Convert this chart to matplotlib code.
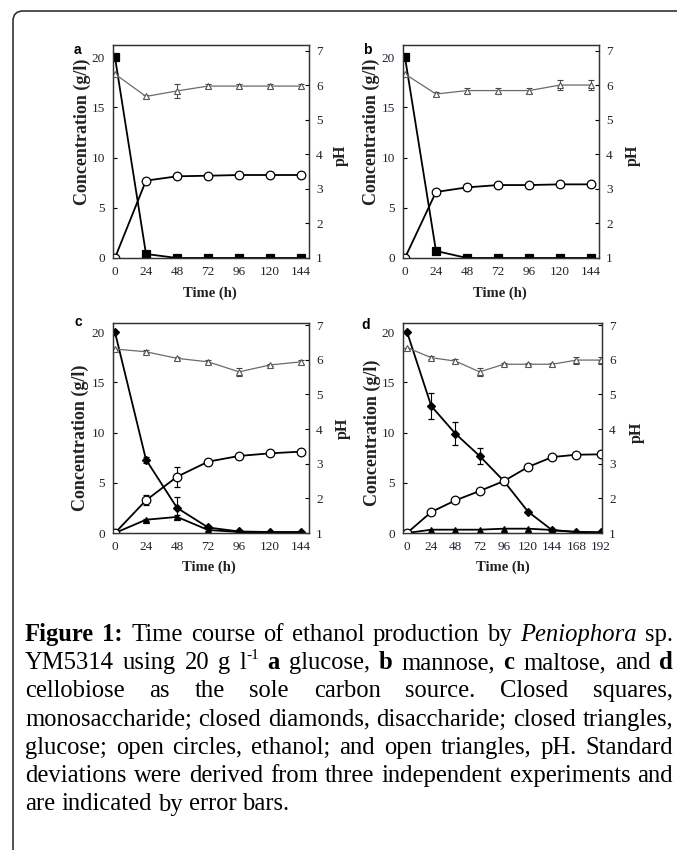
import matplotlib
matplotlib.use('Agg')
import matplotlib.pyplot as plt
from matplotlib.patches import FancyBboxPatch

# ---------------- data ----------------
t_ab = [0, 24, 48, 72, 96, 120, 144]
t_c = [0, 24, 48, 72, 96, 120, 144]
t_d = [0, 24, 48, 72, 96, 120, 144, 168, 192]

# panel a: glucose
mono_a = [20, 0.4, 0, 0, 0, 0, 0]
eth_a = [0, 7.7, 8.13, 8.19, 8.26, 8.26, 8.26]
ph_a = [6.33, 5.68, 5.84, 5.98, 5.98, 5.98, 5.98]
ph_a_err = [0, 0.05, 0.2, 0.05, 0.05, 0.05, 0.05]

# panel b: mannose
mono_b = [20, 0.7, 0, 0, 0, 0, 0]
eth_b = [0, 6.57, 7.03, 7.26, 7.26, 7.33, 7.33]
ph_b = [6.33, 5.75, 5.85, 5.85, 5.85, 6.01, 6.01]
ph_b_err = [0, 0.05, 0.08, 0.06, 0.06, 0.15, 0.15]

# panel c: maltose
di_c = [20, 7.3, 2.5, 0.55, 0.15, 0.1, 0.1]
di_c_err = [0, 0.3, 1.1, 0.1, 0, 0, 0]
glc_c = [0, 1.32, 1.6, 0.3, 0.1, 0.05, 0.05]
glc_c_err = [0, 0.1, 0.2, 0.1, 0, 0, 0]
eth_c = [0, 3.25, 5.6, 7.1, 7.67, 7.93, 8.1]
eth_c_err = [0, 0.5, 1.0, 0.3, 0.1, 0.1, 0.1]
ph_c = [6.31, 6.23, 6.04, 5.94, 5.65, 5.85, 5.94]
ph_c_err = [0, 0.05, 0.05, 0.05, 0.12, 0.03, 0.05]

# panel d: cellobiose
di_d = [20, 12.64, 9.88, 7.66, 5.17, 2.12, 0.27, 0.1, 0.07]
di_d_err = [0, 1.3, 1.15, 0.75, 0, 0, 0, 0, 0]
glc_d = [0, 0.33, 0.33, 0.33, 0.43, 0.43, 0.3, 0.1, 0.05]
eth_d = [0, 2.09, 3.25, 4.18, 5.17, 6.57, 7.56, 7.79, 7.83]
ph_d = [6.35, 6.06, 5.96, 5.65, 5.87, 5.87, 5.87, 5.99, 5.99]
ph_d_err = [0, 0.05, 0.06, 0.12, 0.03, 0.03, 0.05, 0.1, 0.1]

conc_ticks = [0, 5, 10, 15, 20]
ph_ticks = [1, 2, 3, 4, 5, 6, 7]
xt_abc = [0, 24, 48, 72, 96, 120, 144]
xt_d = [0, 24, 48, 72, 96, 120, 144, 168, 192]

caption_lines = [
    "**Figure **1: Time course of ethanol production by *Peniophora sp.",
    "YM5314 using 20 g l^-1 **a glucose, **b mannose, **c maltose, and **d",
    "cellobiose as the sole carbon source. Closed squares,",
    "monosaccharide; closed diamonds, disaccharide; closed triangles,",
    "glucose; open circles, ethanol; and open triangles, pH. Standard",
    "deviations were derived from three independent experiments and",
    "are indicated by error bars.",
]

# ---------------- setup ----------------
SERIF = ['Liberation Serif', 'DejaVu Serif']
SANS = ['Liberation Sans', 'DejaVu Sans']
plt.rcParams['font.family'] = SERIF
W, H = 677, 850
fig = plt.figure(figsize=(W / 100, H / 100), dpi=100)


def px_rect(l, t, r, b):
    return [l / W, 1 - b / H, (r - l) / W, (b - t) / H]


TICKC = '#222233'


def panel(rect, t, xlim, xticks, ylim, phlim, main, ph, ph_err):
    ax = fig.add_axes(px_rect(*rect))
    ax2 = ax.twinx()
    for name, y, err, style in main:
        kw = dict(color='black', lw=1.3, ms=style['ms'], marker=style['m'],
                  mfc=style['mfc'], mec='black', mew=0.9, zorder=style['z'])
        if err is not None:
            ax.errorbar(t, y, yerr=err, ecolor='black', elinewidth=0.8,
                        capsize=2.2, capthick=0.8, **kw)
        else:
            ax.plot(t, y, **kw)
    ax2.errorbar(t, ph, yerr=ph_err, color='#6a6a6a', lw=0.9, marker='^',
                 ms=5, mfc='white', mec='#555555', mew=0.8,
                 ecolor='#444444', elinewidth=0.7, capsize=2.2, capthick=0.7)
    ax.set_xlim(*xlim)
    ax.set_ylim(*ylim)
    ax2.set_ylim(*phlim)
    ax.set_xticks(xticks)
    ax.set_yticks(conc_ticks)
    ax2.set_yticks(ph_ticks)
    ax.tick_params(axis='x', direction='in', length=0, labelsize=9.5,
                   pad=6, labelcolor=TICKC)
    ax.tick_params(axis='y', direction='in', length=3, width=0.8,
                   labelsize=9.5, pad=6, labelcolor=TICKC)
    ax2.tick_params(axis='y', direction='in', length=3, width=0.8,
                    labelsize=9.5, pad=5, labelcolor=TICKC)
    for a in (ax, ax2):
        for s in a.spines.values():
            s.set_linewidth(0.9)
            s.set_color('#333333')
    return ax, ax2


sq = dict(m='s', ms=5.3, mfc='black', z=3)
ci = dict(m='o', ms=6.2, mfc='white', z=4)
di = dict(m='D', ms=4.3, mfc='black', z=3)
tr = dict(m='^', ms=5, mfc='black', z=3)

panel((113, 45, 309, 258), t_ab, (-1.5, 150), xt_abc, (0, 21.2), (1, 7.17),
      [('mono', mono_a, None, sq), ('eth', eth_a, None, ci)], ph_a, ph_a_err)
panel((403, 45, 599, 258), t_ab, (-1.5, 150), xt_abc, (0, 21.2), (1, 7.17),
      [('mono', mono_b, None, sq), ('eth', eth_b, None, ci)], ph_b, ph_b_err)
panel((113, 323, 309, 533), t_c, (-1.5, 150), xt_abc, (0, 20.9), (1, 7.06),
      [('di', di_c, di_c_err, di), ('glc', glc_c, glc_c_err, tr),
       ('eth', eth_c, eth_c_err, ci)], ph_c, ph_c_err)
panel((403, 323, 602, 533), t_d, (-4, 193.3), xt_d, (0, 20.9), (1, 7.06),
      [('di', di_d, di_d_err, di), ('glc', glc_d, None, tr),
       ('eth', eth_d, None, ci)], ph_d, ph_d_err)

# ---------------- overlay (pixel coordinates) ----------------
ov = fig.add_axes([0, 0, 1, 1])
ov.set_xlim(0, W)
ov.set_ylim(H, 0)
ov.axis('off')
ov.patch.set_alpha(0)

ov.add_patch(FancyBboxPatch((13, 11), 760, 950,
                            boxstyle='round,pad=0,rounding_size=10',
                            fc='none', ec='#333333', lw=1.2))

for lab, (x, y) in zip(['a', 'b', 'c', 'd'],
                       [(77, 50), (367, 50), (78, 322), (366, 325)]):
    ov.text(x, y, lab, family=SANS, fontweight='bold', fontsize=10,
            ha='center', va='center')

for (x, y) in [(82, 132), (371, 132), (80, 438), (372, 433)]:
    ov.text(x, y, 'Concentration (g/l)', fontweight='bold', fontsize=13,
            rotation=90, ha='center', va='center', color='#222222')
for (x, y) in [(341, 155), (633, 155), (343, 428), (637, 432)]:
    ov.text(x, y, 'pH', fontweight='bold', fontsize=11.5,
            rotation=90, ha='center', va='center', color='#222222')
for (x, y) in [(210, 293), (500, 293), (209, 567), (503, 567)]:
    ov.text(x, y, 'Time (h)', fontweight='bold', fontsize=10.5,
            ha='center', va='center', color='#222222')

# ---------------- justified caption ----------------
renderer = fig.canvas.get_renderer()


def parse(line):
    words = []
    for tok in line.split(' '):
        wt, st = 'normal', 'normal'
        if tok.startswith('**'):
            tok = tok[2:]
            wt = 'bold'
        elif tok.startswith('*'):
            tok = tok[1:]
            st = 'italic'
        if tok == '':
            continue
        if '^' in tok:
            base, sup = tok.split('^')
            words.append([(base, wt, st, 1.0, 0.0), (sup, wt, st, 0.62, 0.42)])
        else:
            words.append([(tok, wt, st, 1.0, 0.0)])
    return words


lines = [parse(l) for l in caption_lines]
# make "1:" bold
lines[0][1] = [(s, 'bold', st, sc, r) for (s, wt, st, sc, r) in lines[0][1]]
# italic Peniophora only, not sp.
lines[0][-1] = [('sp.', 'normal', 'normal', 1.0, 0.0)]


def seg_width(s, wt, st, size):
    t = ov.text(0, 0, s, fontsize=size, fontweight=wt, fontstyle=st)
    w = t.get_window_extent(renderer).width
    t.remove()
    return w


def word_width(word, size):
    return sum(seg_width(s, wt, st, size * sc) for (s, wt, st, sc, r) in word)


def space_width(size):
    return seg_width('n n', 'normal', 'normal', size) - seg_width('nn', 'normal', 'normal', size)


X0, X1 = 25, 673
base = 16.0
last_w = sum(word_width(w, base) for w in lines[-1]) + space_width(base) * (len(lines[-1]) - 1)
size = base * 270.0 / last_w
for ln in lines[:-1]:
    nat = sum(word_width(w, size) for w in ln) + 1.05 * space_width(size) * (len(ln) - 1)
    if nat > (X1 - X0):
        size *= (X1 - X0) / nat

sp = space_width(size)
px_per_pt = 100 / 72.0
for i, ln in enumerate(lines):
    yb = 640.7 + 28.3 * i
    widths = [word_width(w, size) for w in ln]
    if i < len(lines) - 1:
        gap = (X1 - X0 - sum(widths)) / (len(ln) - 1)
    else:
        gap = sp
    x = X0
    for w, wdt in zip(ln, widths):
        xx = x
        for (s, wt, st, sc, r) in w:
            ov.text(xx, yb - r * size * px_per_pt, s, fontsize=size * sc,
                    fontweight=wt, fontstyle=st, ha='left', va='baseline')
            xx += seg_width(s, wt, st, size * sc)
        x += wdt + gap

fig.savefig('out.png', dpi=100)
